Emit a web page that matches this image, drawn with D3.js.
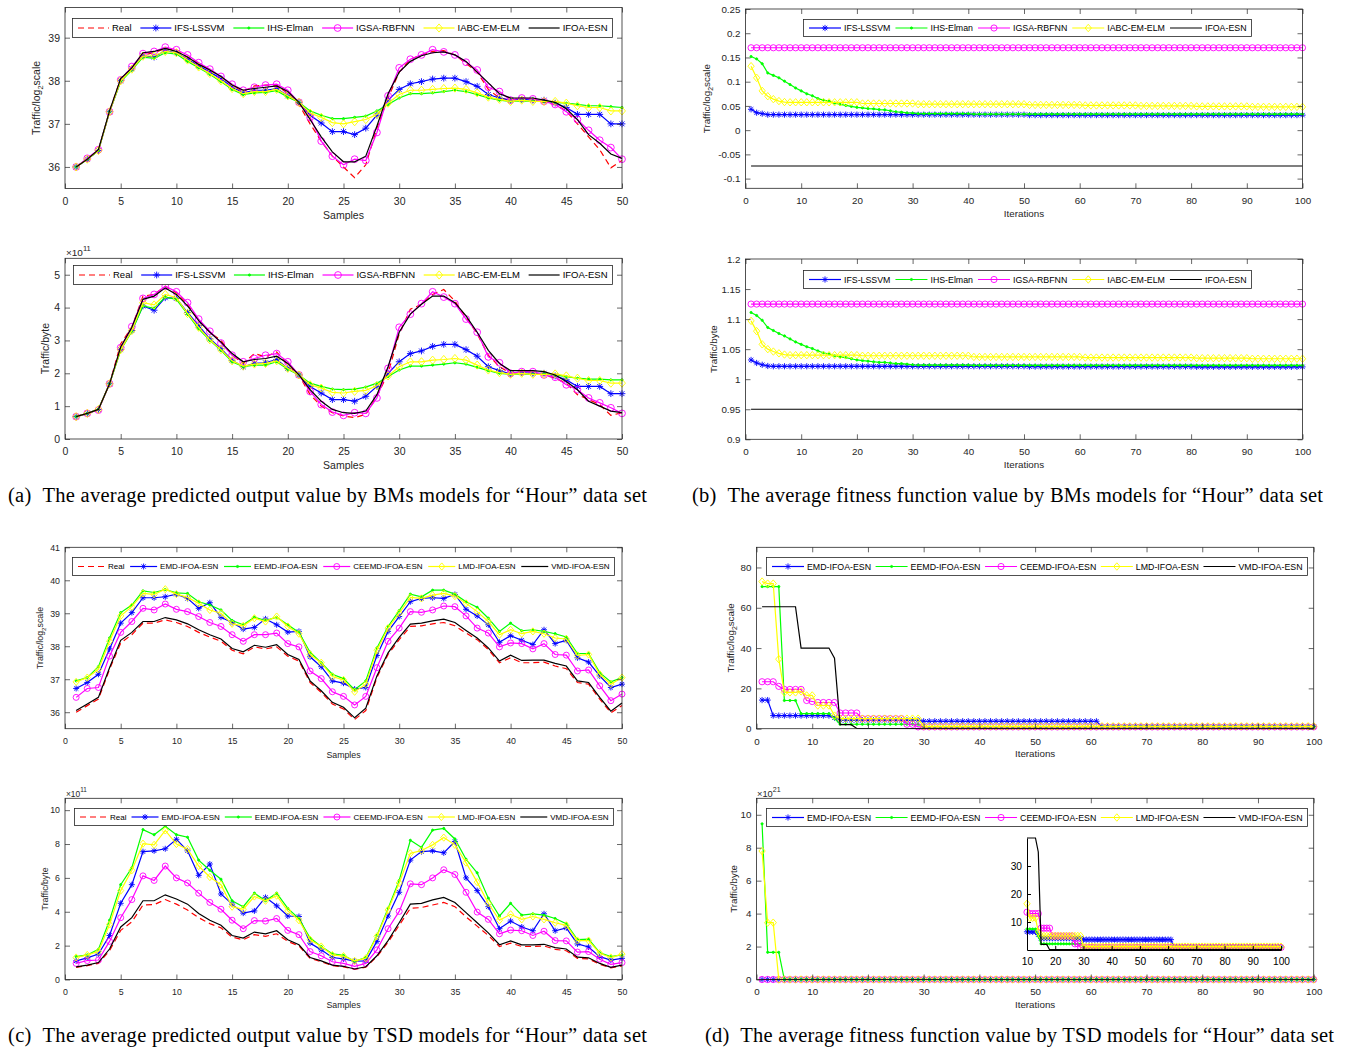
<!DOCTYPE html>
<html>
<head>
<meta charset="utf-8">
<style>
body { margin: 0; background: #fff; }
</style>
</head>
<body>
<svg width="1350" height="1050"></svg>
<script src="https://d3js.org/d3.v7.min.js"></script>
<script>

// ---- x values and tick labels ----
var samples = d3.range(1, 51);
var iterations = d3.range(1, 101);
var sampleTicks = [0, 5, 10, 15, 20, 25, 30, 35, 40, 45, 50];
var iterTicks = [0, 10, 20, 30, 40, 50, 60, 70, 80, 90, 100];
var insetTicks = [10, 20, 30, 40, 50, 60, 70, 80, 90, 100];

var bmNames = ["Real", "IFS-LSSVM", "IHS-Elman", "IGSA-RBFNN", "IABC-EM-ELM", "IFOA-ESN"];
var tsdNames = ["Real", "EMD-IFOA-ESN", "EEMD-IFOA-ESN", "CEEMD-IFOA-ESN", "LMD-IFOA-ESN", "VMD-IFOA-ESN"];

// ---- (a) BMs predicted output, log2 scale ----
var realA1 = [36.0,36.18,36.38,37.3,38.05,38.3,38.6,38.65,38.75,38.7,
              38.55,38.4,38.25,38.1,37.9,37.75,37.88,37.9,37.9,37.7,
              37.45,37.0,36.6,36.25,36.0,35.75,36.05,36.9,37.6,38.2,
              38.5,38.6,38.68,38.7,38.6,38.4,38.2,37.8,37.6,37.55,
              37.6,37.55,37.5,37.45,37.3,37.0,36.7,36.4,35.98,36.15];
var ifsA1 = [36.0,36.18,36.38,37.28,38.0,38.28,38.58,38.55,38.7,38.65,
             38.5,38.35,38.2,38.05,37.85,37.72,37.78,37.78,37.82,37.65,
             37.5,37.2,37.02,36.82,36.82,36.75,36.9,37.2,37.55,37.8,
             37.93,37.98,38.04,38.06,38.06,37.98,37.87,37.68,37.6,37.55,
             37.57,37.55,37.55,37.48,37.38,37.22,37.22,37.22,37.0,37.0];
var ihsA1 = [36.0,36.18,36.38,37.28,37.98,38.25,38.55,38.52,38.65,38.62,
             38.45,38.3,38.15,37.98,37.8,37.68,37.72,37.73,37.77,37.62,
             37.5,37.3,37.2,37.12,37.12,37.15,37.18,37.3,37.45,37.6,
             37.7,37.7,37.72,37.75,37.78,37.75,37.68,37.6,37.55,37.52,
             37.53,37.52,37.52,37.5,37.48,37.45,37.42,37.42,37.4,37.38];
var igsaA1 = [36.0,36.2,36.4,37.28,38.02,38.33,38.63,38.68,38.78,38.72,
              38.6,38.42,38.27,38.1,37.92,37.78,37.85,37.9,37.92,37.78,
              37.5,37.15,36.6,36.25,36.05,36.18,36.15,36.8,37.65,38.3,
              38.5,38.6,38.72,38.67,38.6,38.43,38.25,37.85,37.75,37.55,
              37.6,37.58,37.52,37.45,37.28,37.1,36.85,36.62,36.45,36.18];
var iabcA1 = [36.0,36.18,36.38,37.28,38.0,38.27,38.57,38.58,38.68,38.65,
              38.48,38.32,38.17,38.0,37.82,37.7,37.75,37.75,37.8,37.65,
              37.5,37.25,37.15,37.03,37.0,37.05,37.1,37.22,37.48,37.68,
              37.78,37.78,37.8,37.82,37.83,37.8,37.72,37.62,37.57,37.52,
              37.55,37.52,37.52,37.52,37.48,37.42,37.38,37.38,37.3,37.3];
var ifoaA1 = [36.0,36.18,36.4,37.3,38.05,38.3,38.65,38.68,38.75,38.68,
              38.55,38.38,38.25,38.1,37.9,37.78,37.82,37.85,37.88,37.75,
              37.5,37.1,36.7,36.35,36.12,36.12,36.25,36.95,37.7,38.2,
              38.45,38.58,38.65,38.67,38.6,38.45,38.2,37.95,37.7,37.6,
              37.6,37.6,37.55,37.5,37.35,37.1,36.75,36.55,36.3,36.2];

// ---- (a) BMs predicted output, bytes (x1e11) ----
var realA2 = [0.68,0.78,0.9,1.68,2.9,3.4,4.35,4.4,4.65,4.45,
              4.1,3.6,3.25,3.0,2.55,2.3,2.6,2.5,2.65,2.25,
              1.95,1.35,1.0,0.8,0.7,0.65,0.75,1.3,2.0,3.2,
              3.95,4.1,4.4,4.55,4.2,3.7,3.2,2.55,2.2,2.0,
              2.05,2.0,1.95,1.85,1.7,1.35,1.2,1.05,0.72,0.8];
var ifsA2 = [0.68,0.78,0.9,1.68,2.72,3.3,4.05,3.92,4.3,4.28,
             3.85,3.45,3.05,2.75,2.4,2.2,2.3,2.32,2.42,2.15,
             1.95,1.6,1.4,1.2,1.2,1.15,1.3,1.6,2.0,2.35,
             2.6,2.68,2.82,2.88,2.88,2.72,2.52,2.2,2.08,1.98,
             2.02,2.0,2.0,1.92,1.8,1.6,1.6,1.6,1.38,1.38];
var ihsA2 = [0.68,0.78,0.9,1.68,2.7,3.28,4.05,3.98,4.32,4.25,
             3.8,3.35,3.0,2.7,2.35,2.2,2.25,2.25,2.35,2.12,
             1.95,1.7,1.6,1.52,1.5,1.52,1.58,1.7,1.9,2.1,
             2.22,2.22,2.25,2.28,2.32,2.28,2.18,2.08,2.0,1.97,
             1.98,1.97,1.98,1.95,1.9,1.85,1.82,1.82,1.8,1.8];
var igsaA2 = [0.68,0.78,0.88,1.68,2.78,3.42,4.28,4.4,4.65,4.48,
              4.15,3.65,3.28,2.92,2.55,2.35,2.45,2.55,2.6,2.35,
              1.95,1.45,1.05,0.82,0.72,0.8,0.78,1.25,2.15,3.4,
              3.8,4.12,4.48,4.32,4.12,3.65,3.25,2.5,2.32,2.0,
              2.05,2.05,1.95,1.88,1.65,1.5,1.25,1.1,0.95,0.78];
var iabcA2 = [0.68,0.78,0.9,1.68,2.72,3.3,4.15,4.08,4.4,4.3,
              3.82,3.4,3.02,2.72,2.38,2.22,2.28,2.3,2.38,2.15,
              1.95,1.65,1.55,1.42,1.4,1.45,1.48,1.62,1.92,2.2,
              2.35,2.35,2.4,2.42,2.45,2.4,2.25,2.1,2.02,1.97,
              2.0,1.97,1.97,1.98,1.92,1.85,1.78,1.78,1.7,1.7];
var ifoaA2 = [0.68,0.78,0.9,1.68,2.8,3.4,4.25,4.35,4.6,4.4,
              4.05,3.6,3.25,2.95,2.6,2.35,2.42,2.45,2.52,2.3,
              1.95,1.5,1.15,0.9,0.8,0.78,0.85,1.35,2.2,3.25,
              3.8,4.1,4.35,4.35,4.15,3.75,3.25,2.7,2.3,2.08,
              2.08,2.08,2.05,1.95,1.75,1.5,1.15,1.0,0.85,0.8];

// ---- (b) BMs fitness; a number is one iteration, [v, n] holds v for n iterations ----
var ifsB1 = [0.043, 0.036, 0.034, [0.032, 47], [0.031, 50]];
var ihsB1 = [0.152,0.147,0.137,0.118,0.113,0.108,0.101,0.094,0.087,0.081,
             0.075,0.071,0.065,0.062,0.06,0.056,0.053,0.051,0.049,0.047,
             0.046,0.0445,0.044,0.0425,0.042,0.04,0.038,0.037,0.0355,0.035,
             [0.034, 10], [0.033, 60]];
var igsaB1 = [[0.17, 100]];
var iabcB1 = [0.132,0.108,0.081,0.07,0.064,0.06,0.058,
              [0.0575, 13], [0.055, 10], [0.0535, 20], [0.052, 10], [0.051, 10], [0.05, 10], [0.049, 10], [0.048, 10]];
var ifoaB1 = [[-0.074, 100]];

var ifsB2 = [1.032, 1.027, 1.024, 1.022, [1.0215, 46], [1.021, 30], [1.0205, 20]];
var ihsB2 = [1.111,1.106,1.098,1.086,1.081,1.076,1.072,1.067,1.062,1.058,
             1.054,1.051,1.047,1.044,1.042,1.039,1.037,1.036,1.034,1.032,
             1.031,1.03,1.029,1.028,1.028,1.027,1.026,1.026,1.025,1.024,
             [1.0235, 10], [1.023, 60]];
var igsaB2 = [[1.125, 100]];
var iabcB2 = [1.097,1.08,1.058,1.05,1.046,1.043,1.041,
              [1.04, 13], [1.039, 20], [1.037, 20], [1.036, 20], [1.035, 10], [1.034, 10]];
var ifoaB2 = [[0.95, 100]];

// ---- (c) TSD predicted output, log2 scale ----
var realC1 = [36.0,36.2,36.4,37.3,38.1,38.35,38.7,38.7,38.8,38.72,
              38.6,38.42,38.28,38.15,37.88,37.77,37.98,37.92,37.98,37.7,
              37.55,36.9,36.6,36.25,36.1,35.78,36.05,37.05,37.75,38.2,
              38.6,38.62,38.68,38.72,38.62,38.4,38.2,37.9,37.5,37.65,
              37.5,37.5,37.52,37.4,37.32,36.9,36.85,36.4,35.98,36.2];
var emdC1 = [36.72,36.9,37.15,37.92,38.7,39.02,39.47,39.47,39.5,39.58,
             39.45,39.15,39.32,38.88,38.72,38.52,38.57,38.83,38.65,38.43,
             38.45,37.68,37.38,36.95,36.88,36.7,36.75,37.72,38.45,38.9,
             39.35,39.45,39.47,39.45,39.57,39.12,38.92,38.65,38.12,38.32,
             38.18,38.05,38.5,38.08,38.18,37.65,37.52,37.1,36.75,36.85];
var eemdC1 = [36.95,37.05,37.38,38.25,39.02,39.25,39.68,39.63,39.72,39.62,
              39.6,39.35,39.25,39.1,38.78,38.65,38.88,38.78,38.88,38.65,
              38.42,37.82,37.5,37.15,37.02,36.68,36.95,37.95,38.6,39.08,
              39.58,39.5,39.7,39.7,39.58,39.35,39.18,38.85,38.45,38.7,
              38.47,38.5,38.45,38.38,38.28,37.78,37.78,37.2,36.92,37.05];
var ceemdC1 = [36.45,36.72,36.75,37.7,38.42,38.75,39.15,39.1,39.28,39.12,
               39.05,38.9,38.72,38.6,38.35,38.15,38.35,38.35,38.4,38.08,
               37.98,37.25,37.02,36.62,36.48,36.22,36.48,37.35,38.15,38.55,
               39.05,39.03,39.1,39.22,39.2,38.92,38.55,38.4,37.98,38.1,
               38.08,37.92,38.08,37.75,37.73,37.25,37.28,36.8,36.35,36.55];
var lmdC1 = [36.92,37.05,37.3,38.15,38.92,39.2,39.6,39.57,39.73,39.58,
             39.48,39.3,39.1,39.0,38.68,38.62,38.85,38.75,38.9,38.6,
             38.38,37.75,37.5,37.08,36.98,36.62,36.85,37.88,38.55,39.0,
             39.48,39.45,39.55,39.6,39.52,39.3,39.05,38.75,38.35,38.5,
             38.38,38.45,38.38,38.25,38.22,37.72,37.75,37.15,36.85,37.05];
var vmdC1 = [36.05,36.25,36.45,37.35,38.18,38.42,38.75,38.75,38.87,38.8,
             38.68,38.5,38.35,38.22,37.93,37.83,38.03,37.97,38.05,37.75,
             37.6,36.95,36.65,36.3,36.15,35.83,36.12,37.1,37.8,38.27,
             38.67,38.7,38.77,38.82,38.72,38.48,38.25,37.95,37.55,37.73,
             37.57,37.58,37.58,37.48,37.4,36.95,36.9,36.45,36.03,36.28];

// ---- (c) TSD predicted output, bytes (x1e11) ----
var realC2 = [0.72,0.82,0.95,1.7,2.9,3.4,4.4,4.42,4.72,4.45,
              4.1,3.65,3.3,3.05,2.5,2.35,2.65,2.55,2.7,2.25,
              1.98,1.25,1.05,0.82,0.75,0.6,0.72,1.35,2.2,3.2,
              4.2,4.25,4.4,4.55,4.3,3.7,3.15,2.6,1.95,2.15,
              1.95,1.95,1.98,1.78,1.7,1.25,1.22,0.9,0.68,0.8];
var emdC2 = [1.1,1.28,1.5,2.6,4.5,5.6,7.55,7.6,7.72,8.28,
             7.6,6.15,6.82,5.05,4.45,3.92,4.05,4.85,4.35,3.75,
             3.72,2.15,1.75,1.3,1.22,1.08,1.1,2.25,3.75,5.15,
             7.05,7.55,7.6,7.48,8.15,6.0,5.25,4.3,3.0,3.45,
             3.1,2.88,3.88,2.88,3.05,2.1,1.92,1.35,1.15,1.25];
var eemdC2 = [1.35,1.45,1.78,3.5,5.6,6.6,8.85,8.55,9.05,8.55,
              8.4,7.05,6.45,5.92,4.65,4.3,5.1,4.65,5.1,4.2,
              3.6,2.45,1.95,1.52,1.42,1.08,1.3,2.6,4.2,5.85,
              8.22,7.8,8.82,8.92,8.3,7.1,6.3,4.8,3.75,4.5,
              3.8,3.88,3.8,3.6,3.3,2.35,2.38,1.58,1.35,1.45];
var ceemdC2 = [0.95,1.12,1.15,2.25,3.65,4.72,6.12,5.85,6.7,6.0,
               5.7,5.1,4.55,4.15,3.5,3.0,3.48,3.45,3.6,2.9,
               2.65,1.65,1.4,1.05,0.95,0.78,0.95,1.75,3.0,4.02,
               5.65,5.6,6.0,6.48,6.2,5.15,3.98,3.55,2.7,2.92,
               2.88,2.6,2.85,2.3,2.28,1.62,1.65,1.2,0.9,1.0];
var lmdC2 = [1.3,1.45,1.65,3.25,5.25,6.45,8.02,7.95,8.8,8.0,
             7.7,6.7,6.05,5.6,4.3,4.15,4.9,4.65,4.95,4.05,
             3.5,2.35,1.95,1.45,1.38,1.1,1.25,2.55,4.1,5.7,
             7.45,7.62,7.95,8.38,7.95,6.9,5.75,4.5,3.5,3.85,
             3.55,3.72,3.55,3.35,3.2,2.3,2.3,1.55,1.3,1.5];
var vmdC2 = [0.75,0.85,1.0,1.8,3.1,3.65,4.65,4.65,5.0,4.75,
             4.45,3.9,3.5,3.2,2.6,2.45,2.8,2.7,2.88,2.35,
             2.05,1.3,1.1,0.85,0.78,0.62,0.75,1.4,2.3,3.35,
             4.45,4.5,4.7,4.85,4.55,3.95,3.35,2.75,2.05,2.28,
             2.05,2.05,2.08,1.88,1.8,1.32,1.28,0.95,0.72,0.85];

// ---- (d) TSD fitness, log2 scale (also shown in the inset of the byte plot) ----
var emdD1 = [[14.2, 2], [6.5, 11], 5.5, [4.2, 15], [3.7, 32], [1.0, 39]];
var eemdD1 = [[70.5, 4], [14, 3], [7.5, 6], 5, [2.2, 15], [0.8, 71]];
var ceemdD1 = [[23.3, 3], 21, [19.5, 4], 14, 13.5, [13, 4], [7.8, 4], [5, 8], [2.2, 2], [0.9, 72]];
var lmdD1 = [73, 72, 72, 34.5, 18, 18, 18, 18.5, 16.5, 16.5, 11.5, 11.5, 11.5, 6.5, [5, 15], [1.2, 71]];
var vmdD1 = [[60.5, 7], [40, 6], 35, [2, 3], [0.1, 83]];

// ---- (d) TSD fitness, bytes (x1e21) ----
var emdD2 = [[0, 100]];
var eemdD2 = [9.45, 1.65, 1.65, 1.65, [0, 96]];
var ceemdD2 = [[0, 100]];
var lmdD2 = [7.8, 3.45, 3.45, [0, 97]];
var vmdD2 = [[0, 100]];

function expand(list) {
  var out = [];
  list.forEach(function(d) {
    if (Array.isArray(d)) { for (var i = 0; i < d[1]; i++) out.push(d[0]); }
    else out.push(d);
  });
  return out;
}

var look = {
  real:    {color: "#ff0000", dash: "6,4"},
  star:    {color: "#0000ff", marker: "star"},
  dot:     {color: "#00ff00", marker: "dot"},
  circle:  {color: "#ff00ff", marker: "circle"},
  diamond: {color: "#ffff00", marker: "diamond"},
  plain:   {color: "#000000"}
};
var predStyles = ["real", "star", "dot", "circle", "diamond", "plain"];
var fitStyles = ["star", "dot", "circle", "diamond", "plain"];

var panels = [
  {box: [65, 7.5, 622, 188.5], xDomain: [0, 50], xTicks: sampleTicks, xs: samples,
   yDomain: [35.5, 39.7], yTicks: [36, 37, 38, 39], xlabel: "Samples", ylabel: "log", ylabelX: 36,
   font: 10.5, lfont: 9.5, legend: [72, 18, 612, 37], sample: 31, mk: 3.4, xlabOff: 26.5,
   names: bmNames, styles: predStyles, series: [realA1, ifsA1, ihsA1, igsaA1, iabcA1, ifoaA1]},
  {box: [65, 258.3, 622, 439], xDomain: [0, 50], xTicks: sampleTicks, xs: samples,
   yDomain: [0, 5.5], yTicks: [0, 1, 2, 3, 4, 5], xlabel: "Samples", ylabel: "Traffic/byte", ylabelX: 45.5,
   font: 10.5, lfont: 9.5, legend: [73, 265, 612, 284], sample: 31, mk: 3.4, xlabOff: 26,
   exp: "11", expPos: [66, 256],
   names: bmNames, styles: predStyles, series: [realA2, ifsA2, ihsA2, igsaA2, iabcA2, ifoaA2]},
  {box: [745.5, 9, 1302.5, 188.3], xDomain: [0, 100], xTicks: iterTicks, xs: iterations,
   yDomain: [-0.12, 0.25], yTicks: [-0.1, -0.05, 0, 0.05, 0.1, 0.15, 0.2, 0.25], xlabel: "Iterations", ylabel: "log", ylabelX: 707,
   font: 9.8, lfont: 8.8, legend: [803, 19, 1251, 36], sample: 32, mk: 3.1, xlabOff: 25,
   names: bmNames.slice(1), styles: fitStyles, series: [ifsB1, ihsB1, igsaB1, iabcB1, ifoaB1].map(expand)},
  {box: [745.5, 259, 1302.5, 439.3], xDomain: [0, 100], xTicks: iterTicks, xs: iterations,
   yDomain: [0.9, 1.2], yTicks: [0.9, 0.95, 1, 1.05, 1.1, 1.15, 1.2], xlabel: "Iterations", ylabel: "Traffic/byte", ylabelX: 714,
   font: 9.8, lfont: 8.8, legend: [803, 270, 1251, 288], sample: 32, mk: 3.1, xlabOff: 25.5,
   names: bmNames.slice(1), styles: fitStyles, series: [ifsB2, ihsB2, igsaB2, iabcB2, ifoaB2].map(expand)},
  {box: [65, 547.3, 622, 728.7], xDomain: [0, 50], xTicks: sampleTicks, xs: samples,
   yDomain: [35.5, 41], yTicks: [36, 37, 38, 39, 40, 41], xlabel: "Samples", ylabel: "log", ylabelX: 40,
   font: 8.8, lfont: 8, legend: [72, 557, 614, 575], sample: 27, mk: 3, xlabOff: 26,
   names: tsdNames, styles: predStyles, series: [realC1, emdC1, eemdC1, ceemdC1, lmdC1, vmdC1]},
  {box: [65, 798.3, 622, 979.5], xDomain: [0, 50], xTicks: sampleTicks, xs: samples,
   yDomain: [0, 10.7], yTicks: [0, 2, 4, 6, 8, 10], xlabel: "Samples", ylabel: "Traffic/byte", ylabelX: 44.5,
   font: 8.8, lfont: 8, legend: [74, 808, 613, 825], sample: 27, mk: 3, xlabOff: 25.5,
   exp: "11", expPos: [66, 797],
   names: tsdNames, styles: predStyles, series: [realC2, emdC2, eemdC2, ceemdC2, lmdC2, vmdC2]},
  {box: [756.5, 547.3, 1313.7, 728.7], xDomain: [0, 100], xTicks: iterTicks, xs: iterations,
   yDomain: [0, 90], yTicks: [0, 20, 40, 60, 80], xlabel: "Iterations", ylabel: "log", ylabelX: 731,
   font: 9.8, lfont: 8.8, legend: [766, 557, 1307, 575], sample: 32, mk: 3.1, xlabOff: 24.8,
   names: tsdNames.slice(1), styles: fitStyles, series: [emdD1, eemdD1, ceemdD1, lmdD1, vmdD1].map(expand)},
  {box: [756.5, 798.3, 1313.7, 979.5], xDomain: [0, 100], xTicks: iterTicks, xs: iterations,
   yDomain: [0, 11], yTicks: [0, 2, 4, 6, 8, 10], xlabel: "Iterations", ylabel: "Traffic/byte", ylabelX: 734,
   font: 9.8, lfont: 8.8, legend: [766, 808, 1307, 826], sample: 32, mk: 3.1, xlabOff: 25.5,
   exp: "21", expPos: [757, 797],
   names: tsdNames.slice(1), styles: fitStyles, series: [emdD2, eemdD2, ceemdD2, lmdD2, vmdD2].map(expand),
   inset: {box: [1027, 838, 1281, 950], xDomain: [10, 100], yDomain: [0, 40], xTicks: insetTicks, yTicks: [10, 20, 30],
           from: 10, series: [emdD1, eemdD1, ceemdD1, lmdD1, vmdD1].map(expand)}}
];

var captions = [
  {x: 8, y: 502, w: 639, text: "(a)\u00a0\u00a0The average predicted output value by BMs models for \u201cHour\u201d data set"},
  {x: 692, y: 502, w: 631, text: "(b)\u00a0\u00a0The average fitness function value by BMs models for \u201cHour\u201d data set"},
  {x: 8, y: 1042, w: 639, text: "(c)\u00a0\u00a0The average predicted output value by TSD models for \u201cHour\u201d data set"},
  {x: 705, y: 1042, w: 629, text: "(d)\u00a0\u00a0The average fitness function value by TSD models for \u201cHour\u201d data set"}
];

var svg = d3.select("svg");
var axisColor = "#262626";
var sans = "'Liberation Sans', Arial, Helvetica, sans-serif";

function fmt(v) { return String(+v.toFixed(3)); }

function markerPath(type, cx, cy, r) {
  if (type === "star") {
    var k = r * 0.72;
    return "M" + (cx - r) + "," + cy + "H" + (cx + r) + "M" + cx + "," + (cy - r) + "V" + (cy + r) +
      "M" + (cx - k) + "," + (cy - k) + "L" + (cx + k) + "," + (cy + k) +
      "M" + (cx - k) + "," + (cy + k) + "L" + (cx + k) + "," + (cy - k);
  }
  if (type === "circle" || type === "dot") {
    var rr = type === "dot" ? 1.1 : r;
    return "M" + (cx - rr) + "," + cy + "a" + rr + "," + rr + " 0 1,0 " + (2 * rr) + ",0a" + rr + "," + rr + " 0 1,0 " + (-2 * rr) + ",0";
  }
  if (type === "diamond") {
    var h = r * 1.2;
    return "M" + cx + "," + (cy - h) + "L" + (cx + h * 0.85) + "," + cy + "L" + cx + "," + (cy + h) + "L" + (cx - h * 0.85) + "," + cy + "Z";
  }
  return "";
}

function drawSeries(g, x, y, xs, series, styles, mk) {
  series.forEach(function(vals, i) {
    var st = look[styles[i]];
    var pts = vals.map(function(v, j) { return [x(xs[j]), y(v)]; });
    g.append("path")
      .attr("d", d3.line()(pts))
      .attr("fill", "none")
      .attr("stroke", st.color)
      .attr("stroke-width", 1.2)
      .attr("stroke-dasharray", st.dash || null);
    if (st.marker) {
      g.append("path")
        .attr("d", pts.map(function(q) { return markerPath(st.marker, q[0], q[1], mk); }).join(""))
        .attr("fill", st.marker === "dot" ? st.color : "none")
        .attr("stroke", st.color)
        .attr("stroke-width", 0.9);
    }
  });
}

function styleAxis(sel, size) {
  sel.style("color", axisColor)
    .style("font-family", sans)
    .style("font-size", size + "px");
  sel.select(".domain").remove();
  sel.selectAll(".tick line").attr("stroke-width", 0.7);
}

function drawPanel(p) {
  var g = svg.append("g");
  var b = p.box;
  var x = d3.scaleLinear().domain(p.xDomain).range([b[0], b[2]]);
  var y = d3.scaleLinear().domain(p.yDomain).range([b[3], b[1]]);

  drawSeries(g, x, y, p.xs, p.series, p.styles, p.mk);

  // ticks on all four sides, pointing inward
  g.append("g").attr("transform", "translate(0," + b[3] + ")")
    .call(d3.axisBottom(x).tickValues(p.xTicks).tickFormat(fmt).tickSize(-5).tickPadding(9))
    .call(styleAxis, p.font);
  g.append("g").attr("transform", "translate(0," + b[1] + ")")
    .call(d3.axisTop(x).tickValues(p.xTicks).tickFormat("").tickSize(-5))
    .call(styleAxis, p.font);
  g.append("g").attr("transform", "translate(" + b[0] + ",0)")
    .call(d3.axisLeft(y).tickValues(p.yTicks).tickFormat(fmt).tickSize(-5).tickPadding(5))
    .call(styleAxis, p.font);
  g.append("g").attr("transform", "translate(" + b[2] + ",0)")
    .call(d3.axisRight(y).tickValues(p.yTicks).tickFormat("").tickSize(-5))
    .call(styleAxis, p.font);

  g.append("rect")
    .attr("x", b[0]).attr("y", b[1])
    .attr("width", b[2] - b[0]).attr("height", b[3] - b[1])
    .attr("fill", "none").attr("stroke", axisColor).attr("stroke-width", 0.8);

  // axis labels
  g.append("text")
    .attr("x", (b[0] + b[2]) / 2).attr("y", b[3] + p.xlabOff).attr("dy", "0.35em")
    .attr("text-anchor", "middle")
    .style("font-family", sans).style("font-size", p.font + "px").attr("fill", axisColor)
    .text(p.xlabel);

  var yl = g.append("text")
    .attr("transform", "translate(" + p.ylabelX + "," + ((b[1] + b[3]) / 2) + ") rotate(-90)")
    .attr("text-anchor", "middle").attr("dy", "0.35em")
    .style("font-family", sans).style("font-size", p.font + "px").attr("fill", axisColor);
  if (p.ylabel === "log") {
    yl.append("tspan").text("Traffic/log");
    yl.append("tspan").attr("dy", 3).style("font-size", (p.font * 0.7) + "px").text("2");
    yl.append("tspan").attr("dy", -3).text("scale");
  } else {
    yl.text(p.ylabel);
  }

  if (p.exp) {
    var ex = g.append("text")
      .attr("x", p.expPos[0]).attr("y", p.expPos[1])
      .style("font-family", sans).style("font-size", (p.font * 0.95) + "px").attr("fill", axisColor);
    ex.append("tspan").text("\u00d710");
    ex.append("tspan").attr("dy", -5).style("font-size", (p.font * 0.72) + "px").text(p.exp);
  }

  if (p.inset) drawInset(g, p);
  drawLegend(g, p);
}

function drawInset(g, p) {
  var s = p.inset, b = s.box;
  var x = d3.scaleLinear().domain(s.xDomain).range([b[0], b[2]]);
  var y = d3.scaleLinear().domain(s.yDomain).range([b[3], b[1]]);
  var k = s.from - 1;
  drawSeries(g, x, y, p.xs.slice(k), s.series.map(function(v) { return v.slice(k); }), p.styles, p.mk);
  var ax = g.append("g").attr("transform", "translate(0," + b[3] + ")")
    .call(d3.axisBottom(x).tickValues(s.xTicks).tickFormat(fmt).tickSize(-4).tickSizeOuter(0).tickPadding(8));
  ax.style("color", "#000").style("font-family", sans).style("font-size", "10.2px");
  var ay = g.append("g").attr("transform", "translate(" + b[0] + ",0)")
    .call(d3.axisLeft(y).tickValues(s.yTicks).tickFormat(fmt).tickSize(-4).tickSizeOuter(0).tickPadding(5));
  ay.style("color", "#000").style("font-family", sans).style("font-size", "10.2px");
}

function drawLegend(g, p) {
  var b = p.legend, lg = g.append("g");
  lg.append("rect")
    .attr("x", b[0] + 0.5).attr("y", b[1] + 0.5)
    .attr("width", b[2] - b[0]).attr("height", b[3] - b[1])
    .attr("fill", "#fff").attr("stroke", axisColor).attr("stroke-width", 0.8);
  var cy = (b[1] + b[3]) / 2 + 0.5;
  var items = p.names.map(function(name, i) {
    var t = lg.append("text")
      .attr("y", cy).attr("dy", "0.35em")
      .style("font-family", sans).style("font-size", p.lfont + "px").attr("fill", "#000")
      .text(name);
    return {t: t, w: t.node().getComputedTextLength(), st: look[p.styles[i]]};
  });
  var used = d3.sum(items, function(d) { return p.sample + 3 + d.w; });
  var gap = (b[2] - b[0] - 6 - 4.5 - used) / (items.length - 1);
  var cx = b[0] + 6;
  items.forEach(function(d) {
    lg.append("line")
      .attr("x1", cx).attr("x2", cx + p.sample).attr("y1", cy).attr("y2", cy)
      .attr("stroke", d.st.color).attr("stroke-width", 1.2)
      .attr("stroke-dasharray", d.st.dash || null);
    if (d.st.marker) {
      lg.append("path")
        .attr("d", markerPath(d.st.marker, cx + p.sample / 2, cy, p.mk))
        .attr("fill", d.st.marker === "dot" ? d.st.color : "none")
        .attr("stroke", d.st.color).attr("stroke-width", 0.9);
    }
    d.t.attr("x", cx + p.sample + 3);
    cx += p.sample + 3 + d.w + gap;
  });
}

panels.forEach(drawPanel);

captions.forEach(function(c) {
  svg.append("text")
    .attr("x", c.x).attr("y", c.y)
    .attr("textLength", c.w).attr("lengthAdjust", "spacing")
    .style("font-family", "'Liberation Serif', 'Times New Roman', serif")
    .style("font-size", "20.5px").attr("fill", "#000")
    .text(c.text);
});
</script>
</body>
</html>
